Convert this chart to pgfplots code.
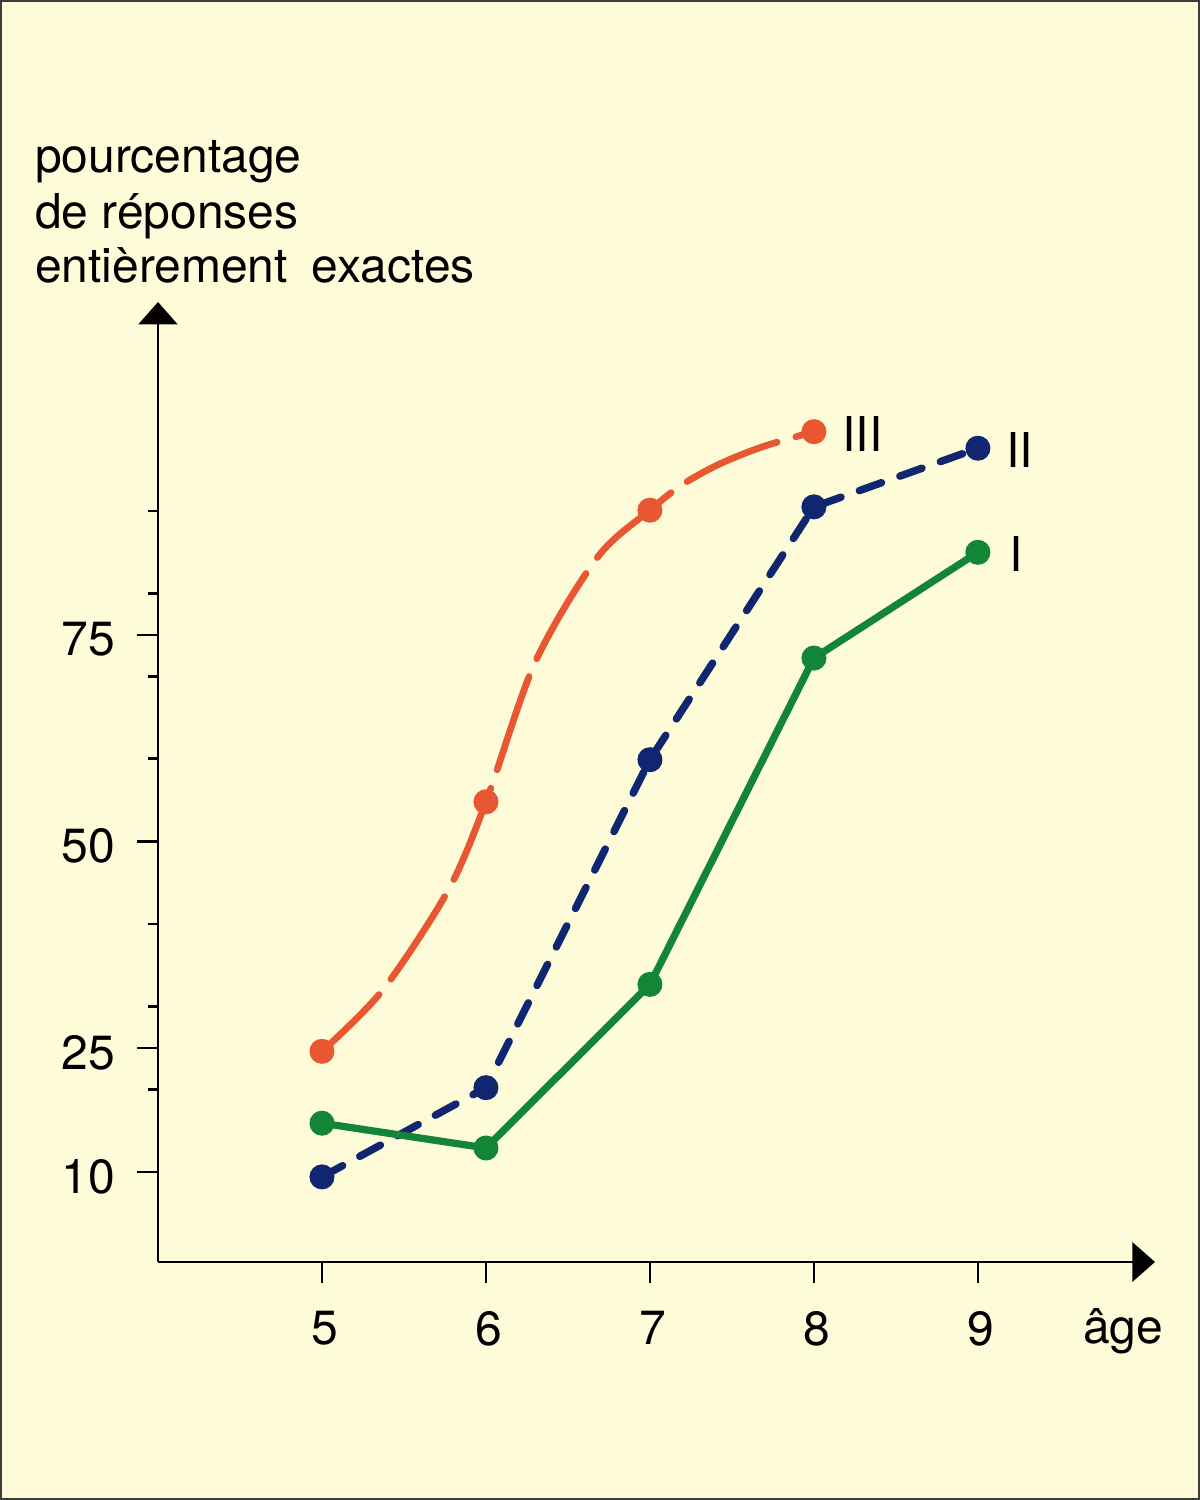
\documentclass[border=0pt]{standalone}
\usepackage{fontspec}
\setmainfont{TeX Gyre Heros}
\usepackage{pgfplots}
\pgfplotsset{compat=1.18}
\usetikzlibrary{arrows.meta}
\definecolor{bg}{RGB}{254,252,216}
\definecolor{frame}{RGB}{60,60,60}
\definecolor{cIII}{RGB}{232,86,50}
\definecolor{cII}{RGB}{16,38,112}
\definecolor{cI}{RGB}{18,134,54}
\newcommand{\lab}{\fontsize{9.6}{11}\selectfont}
\begin{document}
\begin{tikzpicture}
\fill[bg] (-31.6pt,-47.6pt) rectangle (208.4pt,252.4pt);
\draw[frame, line width=0.4pt] (-31.4pt,-47.4pt) rectangle (208.2pt,252.2pt);
\begin{axis}[
  scale only axis, width=199.4pt, height=192pt,
  xmin=4, xmax=10.08, ymin=-0.9, ymax=115.3,
  axis lines=left,
  axis line style={line width=0.55pt, -{Triangle[length=4.5pt,width=7.8pt]}},
  tick style={line width=0.55pt, black},
  tick align=outside,
  major tick length=4.2pt, minor tick length=2pt,
  xtick={5,6,7,8,9},
  ytick={10,25,50,75},
  minor ytick={20,30,40,60,70,80,90},
  clip=false,
  /pgf/number format/assume math mode=true,
  ticklabel style={font=\lab},
  yticklabel style={anchor=east, inner sep=0pt, xshift=-4.2pt, yshift=-0.9pt},
  xticklabel style={anchor=north, inner sep=0pt, yshift=-5.4pt, xshift=0.6pt},
]
% curve III as traced in the reference
\addplot[cIII, line width=1.35pt, smooth, line cap=round,
  dash pattern=on 19.7pt off 3.9pt, dash phase=3.6pt]
  coordinates {(5,24.6) (5.37,32.0) (5.77,44.1) (6,54.8) (6.30,71.7)
               (6.68,84.4) (7,90.1) (7.19,93.1) (7.42,95.65) (7.69,97.8) (8,99.6)};
\addplot[only marks, cIII, mark=*, mark size=2.2pt,
  mark options={solid, line width=0.6pt, fill=cIII}]
  coordinates {(5,24.6) (6,54.8) (7,90.1) (8,99.6)};
\addplot[cII, line width=1.5pt, line cap=round,
  dash pattern=on 4.7pt off 3.9pt,
  mark=*, mark size=2.2pt, mark options={solid, line width=0.6pt, fill=cII}]
  coordinates {(5,9.4) (6,20.2) (7,59.9) (8,90.5) (9,97.6)};
\addplot[cI, line width=1.45pt, line cap=round,
  mark=*, mark size=2.2pt, mark options={solid, line width=0.6pt, fill=cI}]
  coordinates {(5,15.9) (6,12.9) (7,32.7) (8,72.2) (9,85.0)};
\node[anchor=west, inner sep=0pt, xshift=5.5pt, yshift=-0.4pt, font=\lab] at (axis cs:8,99.6) {III};
\node[anchor=west, inner sep=0pt, xshift=5.5pt, yshift=-0.4pt, font=\lab] at (axis cs:9,97.6) {II};
\node[anchor=west, inner sep=0pt, xshift=6.1pt, yshift=-0.4pt, font=\lab] at (axis cs:9,85.0) {I};
\end{axis}
\node[anchor=base west, inner sep=0pt, font=\lab] at (-24.8pt,217.8pt) {pourcentage};
\node[anchor=base west, inner sep=0pt, font=\lab] at (-24.8pt,206.6pt) {de réponses};
\node[anchor=base west, inner sep=0pt, font=\lab] at (-24.8pt,195.9pt) {entièrement\hspace{4.8pt}exactes};
\node[anchor=base west, inner sep=0pt, font=\lab] at (184.8pt,-16.2pt) {âge};
\pgfresetboundingbox
\useasboundingbox (-31.6pt,-47.6pt) rectangle (208.4pt,252.4pt);
\end{tikzpicture}
\end{document}
